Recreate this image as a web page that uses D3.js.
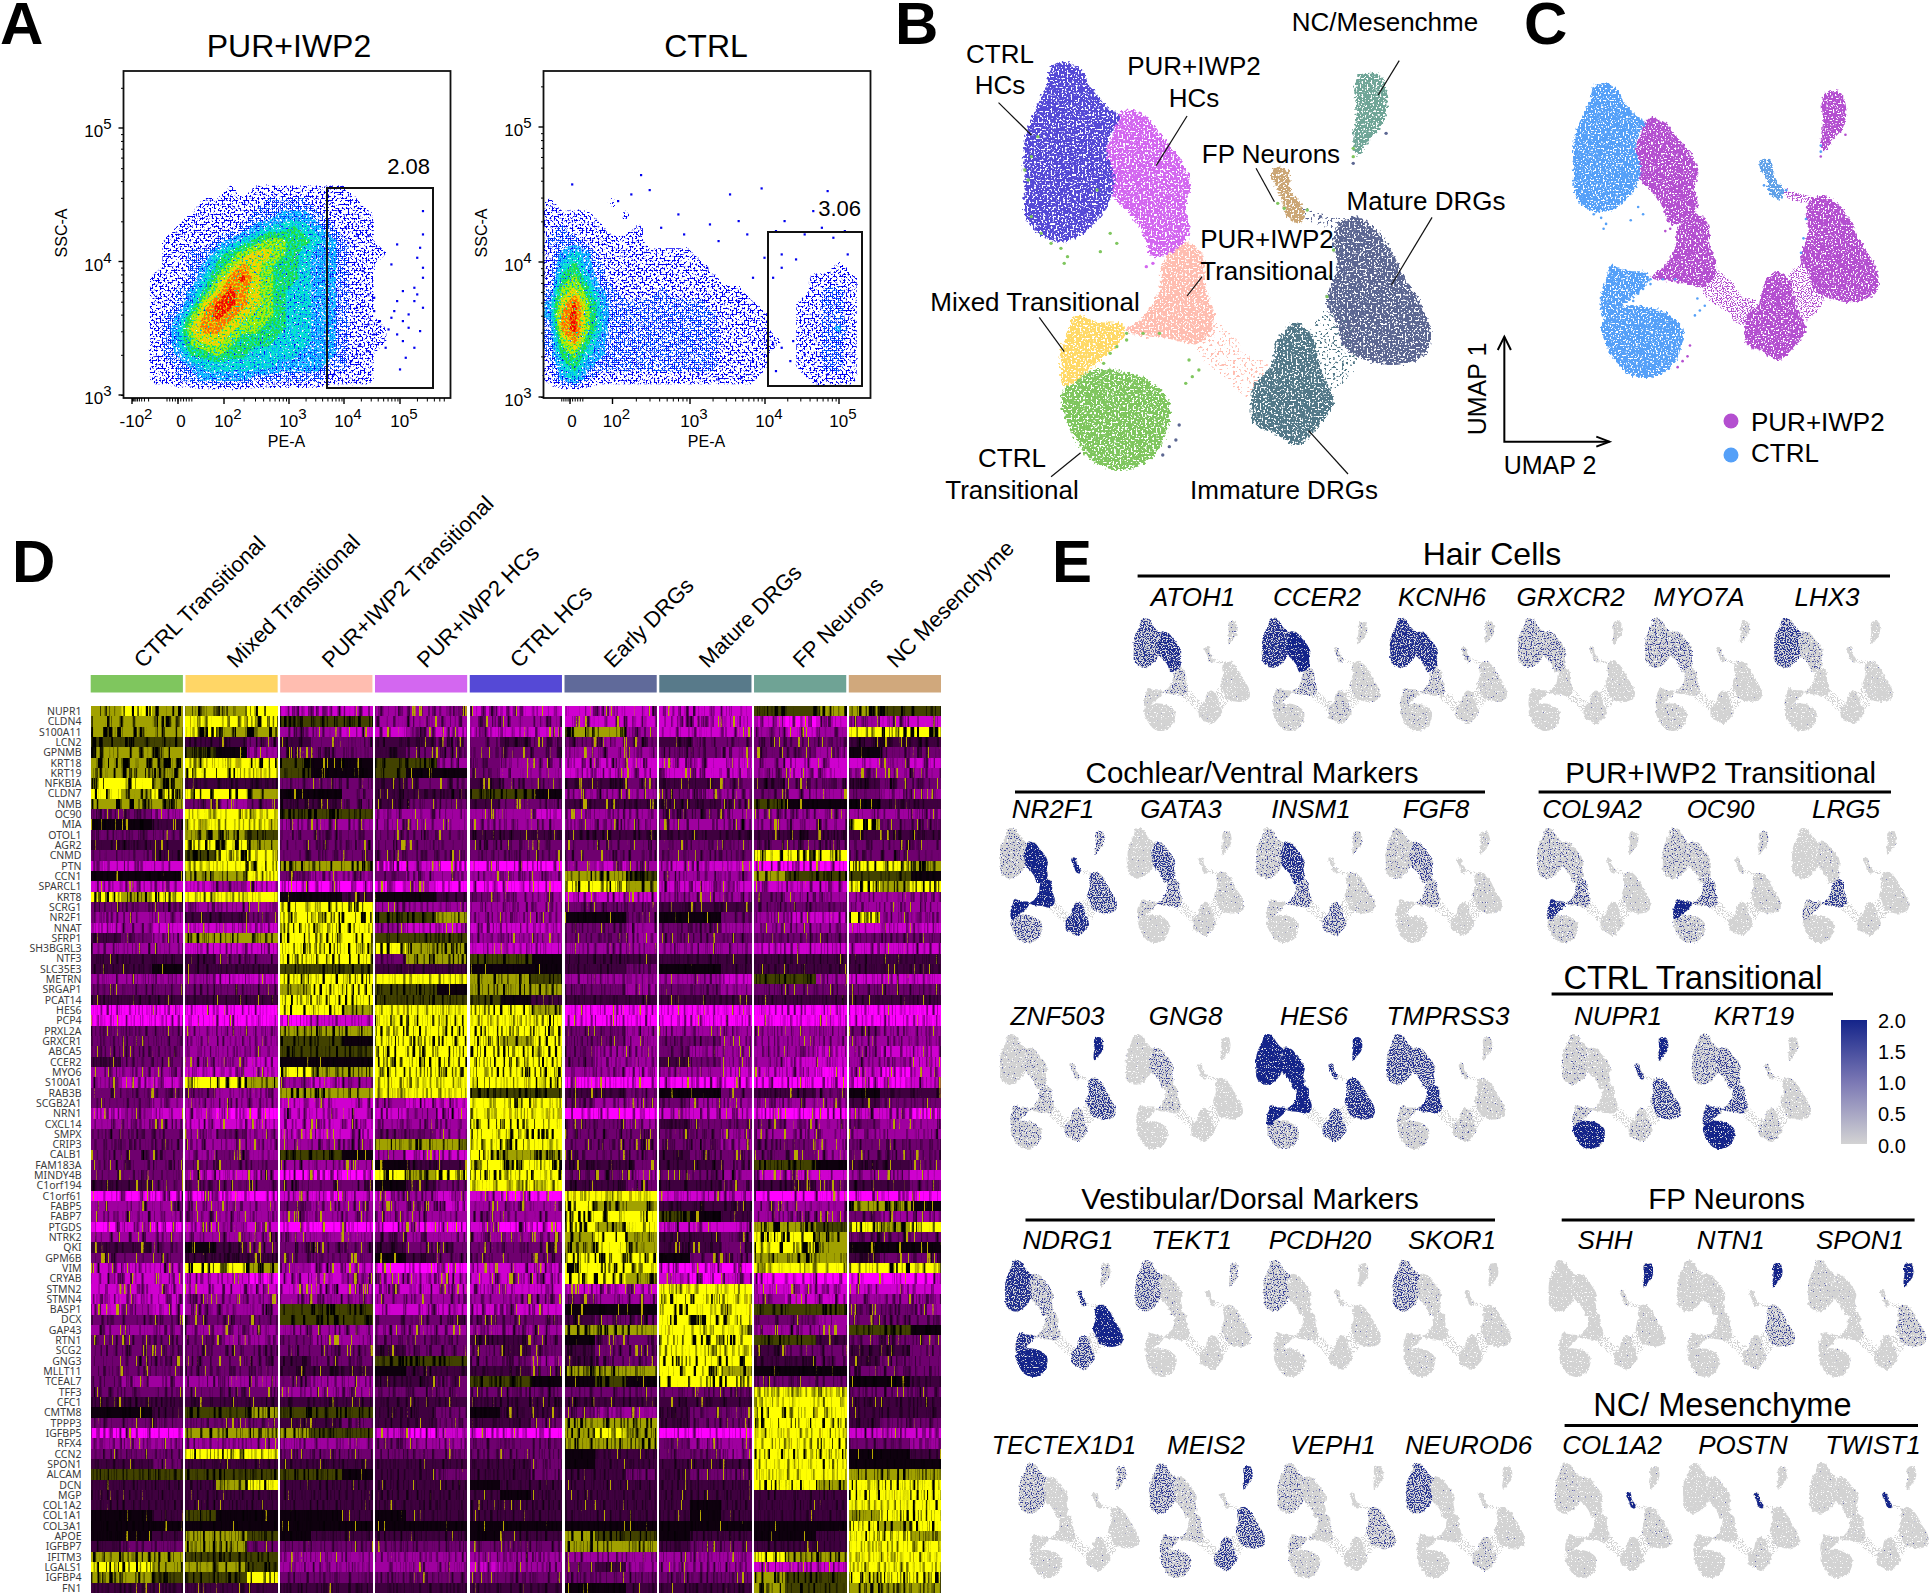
<!DOCTYPE html>
<html><head><meta charset="utf-8">
<style>html,body{margin:0;background:#fff}svg{display:block}text{font-family:"Liberation Sans",Arial,sans-serif;fill:#000}</style>
<script src="https://cdn.jsdelivr.net/npm/d3@7"></script>
</head><body><svg id="c" width="1930" height="1594"></svg>
<script>
// ---------- PANEL A: density grids (0 = empty, 9 = hottest), one string per grid row
const flowGridPUR = ["00000000000000000000000000","00000000000000000000000000","00000000000000000000000000","00000000000000000000000000","00000000000000000000000000","00000000000000000000000000","00000000000000000000000000","00000000000000000000000000","00000000000000000000000000",
"00000000101111111100000000","00000011111222211110000000","00000111112233321111000000","00001111123445432111000000","00011112345665543211000000","00011224567765433211100000","00011235687655433211000000","00111246897655433211000000","00112357987654433211000000",
"00112479987654433211000000","00123689876654433211000000","00124788766554433211100000","00124677655544433211100000","00123556554444333211000000","00112344444433332211000000","00112233332222221111000000","00000000000000000000000000"];
const flowGridCTRL = ["00000000000000000000000000","00000000000000000000000000","00000000000000000000000000","00000000000000000000000000","00000000000000000000000000","00000000000000000000000000","00000000000000000000000000","00000000000000000000000000","00000000000000000000000000","00000000000000000000000000",
"10000100000000000000000000","11110010000000000000000000","12111001000000000000000000","22211111000000000000000000","13431111111100000000000000","14532111111110000000000100","15642111111111000000011110","26753211121111110000012210","37964222222221111000112210","38964222222222111100112210",
"28964222222222111100112310","26853222222222111110112210","25643222222222111100112210","14532222222222111100112210","13421111111111111000011110","00000000000000000000000000"];
const flowColors = ["#0000f5","#0050ff","#00b4ff","#00e6c8","#20e040","#b4f000","#ffd000","#ff6a00","#f00000"];
const flowSparsePUR = [[735,630],[735,700],[730,740],[725,770],[735,800],[735,830],[690,730],[680,790],[720,860],[700,870],[690,900],[720,900],[735,920],[680,950],[700,960],[660,960],[640,970],[620,920],[650,1000],[690,1000],[730,990],[670,1040],[700,1020],[720,1040],[695,1105],[705,1070],[610,1080],[640,1050],[630,810],[650,890],[640,880],[620,700],[600,680],[590,630],[580,1120],[600,1000],[675,985],[710,940],[725,880],[710,980],[685,930],[650,930],[625,1030],[620,1060],[640,705],[605,725]];
const flowSparseCTRL = [[1115,522],[995,550],[1130,567],[1325,562],[1270,580],[1440,570],[1098,580],[1075,600],[1180,640],[1235,670],[1285,660],[1365,660],[1415,630],[1430,680],[1350,690],[1300,700],[1250,720],[1330,770],[1360,760],[1470,690],[1450,710],[1400,700],[1385,775],[1345,830],[1360,800],[1475,760],[1345,1030],[1360,1040],[1375,1080],[1350,1110],[1400,1060],[1440,1120],[1465,1080],[1420,1140],[1380,1020],[1290,1130],[1250,1135],[1310,1080],[1285,900],[1310,830],[1230,800],[1190,700],[1150,680],[1215,1120]];

// ---------- PANEL B/C/E: UMAP cluster outlines
const umapClusters = ["CTRL Transitional","Mixed Transitional","PUR+IWP2 Transitional","PUR+IWP2 HCs","CTRL HCs","Immature DRGs","Mature DRGs","FP Neurons","NC/Mesenchyme"];
const clusterColors = ["#7FC65E","#FFD966","#FFBDB0","#D367F0","#5549D6","#527888","#5C6792","#CBA675","#6FA597"];
const conditionColors = ["#55A0F8","#55A0F8","#B44FD0","#B44FD0","#55A0F8","#B44FD0","#B44FD0","#5FA0E8","#B44FD0"];
const outlineCT = [[340,1115],[385,1150],[410,1210],[405,1300],[385,1370],[340,1410],[295,1385],[265,1310],[245,1190],[265,1140],[300,1110]];
const outlineMX = [[265,945],[300,965],[340,975],[340,1010],[300,1090],[250,1160],[245,1060],[255,1000]];
const outlinePT = [[430,725],[460,760],[465,860],[478,940],[472,1000],[450,1030],[420,1020],[345,990],[370,950],[395,870],[400,790]];
const outlinePH = [[340,330],[375,350],[395,400],[430,490],[442,550],[435,620],[440,700],[420,750],[385,770],[370,700],[350,640],[325,590],[320,530],[315,450],[325,400],[330,360]];
const outlineCH = [[250,185],[275,210],[290,260],[315,320],[335,350],[320,400],[315,460],[325,530],[320,600],[300,660],[270,710],[240,725],[205,690],[190,640],[190,560],[188,470],[192,400],[205,330],[222,260],[230,200]];
const outlineIM = [[600,970],[625,1000],[640,1100],[660,1210],[640,1270],[605,1335],[570,1300],[540,1270],[535,1210],[540,1150],[565,1100],[575,1020]];
const outlineMA = [[695,650],[725,690],[750,760],[770,840],[795,920],[808,1000],[800,1060],[750,1095],[680,1050],[665,970],[650,910],[665,800],[660,720],[670,670]];
const outlineFP = [[575,500],[590,510],[595,570],[615,630],[610,670],[590,650],[580,590],[565,520]];
const outlineNC = [[700,225],[730,225],[742,300],[735,370],[715,420],[695,470],[690,420],[695,340],[692,260]];
const umapOutlines = [outlineCT,outlineMX,outlinePT,outlinePH,outlineCH,outlineIM,outlineMA,outlineFP,outlineNC];
// thin, sparsely populated links between clusters: [owning cluster, outline]
const bridgePTtoIM = [[470,960],[505,1000],[530,1070],[560,1090],[530,1190],[495,1130],[450,1050]];
const bridgeIMtoMA = [[625,985],[665,925],[690,1000],[695,1090],[660,1170],[645,1110]];
const bridgeFPtoMA = [[610,625],[650,645],[680,665],[665,680],[625,665]];
const bridgeOwners = [2,5,6];
const umapBridges = [bridgePTtoIM,bridgeIMtoMA,bridgeFPtoMA];
const strayCells = [[200,650,0],[215,700,0],[230,730,0],[245,745,0],[255,770,0],[250,790,0],[195,540,0],[200,470,0],[190,510,0],[210,410,0],[320,700,0],[330,730,0],[305,755,0],[300,570,0],[345,1000,0],[370,1000,0],[395,1000,0],[330,1040,0],[345,1020,0],[320,1060,0],[310,1090,0],[440,1080,0],[455,1110,0],[445,1130,0],[435,1150,0],[575,610,0],[585,625,0],[620,630,0],[660,750,0],[655,830,0],[650,890,0],[690,470,0],[690,445,0],
[375,800,3],[385,790,3],[640,650,6],[410,1340,6],[425,1275,6],[420,1320,6],[400,1365,6],[740,400,6],[690,490,6]];

// ---------- PANEL E: one expression level per gene, per cluster above (0 = none, 9 = 2.0)
const featureGenes = ["ATOH1","CCER2","KCNH6","GRXCR2","MYO7A","LHX3","NR2F1","GATA3","INSM1","FGF8","COL9A2","OC90","LRG5","ZNF503","GNG8","HES6","TMPRSS3","NUPR1","KRT19","NDRG1","TEKT1","PCDH20","SKOR1","SHH","NTN1","SPON1","TECTEX1D1","MEIS2","VEPH1","NEUROD6","COL1A2","POSTN","TWIST1"];
const featureLevels = ["124871133","235983242","234882243","111551121","223551122","111471121","699948796","136712212","136846213","115631212","386441222","496441223","157201121","454325749","013510010","599997889","348773232","941233789","987653232","984587984","111261214","111151111","111261111","000001129","111112519","111121429","111151115","553367728","242241511","111173111","111121291","001101191","011111191"];
const legendTicks = [0,0.5,1,1.5,2];

// ---------- PANEL D: scaled expression, gene x cluster, 3 sub-bands per cluster (0 magenta, 5 black, 8+ yellow)
const heatClusters = ["CTRL Transitional","Mixed Transitional","PUR+IWP2 Transitional","PUR+IWP2 HCs","CTRL HCs","Early DRGs","Mature DRGs","FP Neurons","NC Mesenchyme"];
const heatBarColors = ["#7FC65E","#FFD666","#FFBDB0","#D367F0","#5549D6","#606A9A","#587A8A","#6FA395","#D0A87C"];
const heatGenes = ["NUPR1","CLDN4","S100A11","LCN2","GPNMB","KRT18","KRT19","NFKBIA","CLDN7","NMB","OC90","MIA","OTOL1","AGR2","CNMD","PTN","CCN1","SPARCL1","KRT8","SCRG1","NR2F1","NNAT","SFRP1","SH3BGRL3","NTF3","SLC35E3","METRN","SRGAP1","PCAT14","HES6","PCP4","PRXL2A","GRXCR1","ABCA5","CCER2","MYO6","S100A1","RAB3B","SCGB2A1","NRN1","CXCL14","SMPX","CRIP3","CALB1","FAM183A","MINDY4B","C1orf194","C1orf61","FABP5","FABP7","PTGDS","NTRK2","QKI","GPM6B","VIM","CRYAB","STMN2","STMN4","BASP1","DCX","GAP43","RTN1","SCG2","GNG3","MLLT11","TCEAL7","TFF3","CFC1","CMTM8","TPPP3","IGFBP5","RFX4","CCN2","SPON1","ALCAM","DCN","MGP","COL1A2","COL1A1","COL3A1","APOE","IGFBP7","IFITM3","LGALS1","IGFBP4","FN1"];
const heatValues = [
"787 778 111 222 111 111 111 667 766","777 998 666 222 222 111 111 101 211","777 877 221 121 111 772 111 212 988","666 443 433 443 343 323 433 333 444","777 652 333 433 333 222 332 332 533","777 998 655 662 322 111 111 211 121","777 889 655 655 322 111 111 211 222","887 444 333 433 433 443 443 433 433","878 887 553 444 665 222 322 322 322","777 323 443 433 433 444 443 655 544",
"332 999 666 222 221 222 332 222 222","554 999 222 222 222 222 222 222 833","333 776 333 333 444 444 444 444 444","444 887 333 333 333 333 333 333 333","334 689 333 333 333 333 333 888 333","111 998 777 010 000 212 111 000 887","555 779 322 322 222 776 222 766 665","111 121 000 010 000 887 111 111 878","878 999 554 554 322 111 222 322 222","333 222 888 222 222 333 444 333 222",
"222 443 888 667 222 553 553 211 822","121 111 888 211 111 332 332 222 111","432 777 888 666 222 332 333 333 333","222 111 888 877 111 222 222 111 111","444 433 888 377 665 444 444 444 444","445 444 666 444 555 443 554 444 444","222 211 888 999 776 222 221 662 111","333 333 788 665 777 332 332 333 333","444 444 888 666 654 444 444 444 444","000 000 887 999 887 000 000 000 000",
"000 000 011 888 998 000 000 000 000","333 222 777 888 888 332 222 222 322","333 222 665 888 878 332 332 222 222","333 222 666 888 888 322 322 221 211","433 221 555 888 888 322 432 211 221","222 111 877 888 888 221 221 110 101","211 887 212 999 898 000 000 000 001","333 322 777 999 666 443 553 443 544","332 222 111 211 989 322 322 222 433","121 100 111 121 999 000 111 000 110",
"222 111 111 222 888 332 433 322 322","333 232 111 332 888 333 332 222 222","333 222 222 777 989 333 332 332 333","333 232 665 211 877 333 433 332 333","333 333 222 544 888 443 443 665 443","333 111 000 878 888 332 332 111 221","443 333 333 543 999 443 443 443 443","000 000 101 121 100 999 111 000 000","222 222 322 221 222 877 444 222 775","222 222 222 222 222 888 654 222 322",
"010 121 000 000 100 878 111 776 878","222 222 222 322 222 787 443 887 333","443 543 333 433 333 787 443 887 555","333 444 333 543 333 888 533 777 433","111 887 211 000 111 889 000 999 989","111 110 112 111 111 887 101 000 000","111 111 111 111 111 111 999 111 111","111 222 222 222 222 322 889 211 222","121 222 666 111 111 555 899 666 332","333 333 666 333 333 433 888 332 333",
"222 222 222 222 222 777 999 222 665","333 322 322 333 443 533 888 664 333","333 333 333 433 343 433 999 433 443","333 333 433 666 332 433 888 443 433","333 333 444 544 443 777 887 555 333","322 222 322 443 665 565 888 333 554","333 333 222 333 333 333 333 999 333","444 444 444 444 444 444 444 999 444","554 667 666 443 544 322 433 889 444","333 333 443 443 443 777 433 888 433",
"000 777 766 101 000 787 000 999 111","222 222 222 322 333 777 322 998 332","333 889 333 333 333 544 332 888 554","443 444 444 444 443 544 444 998 555","666 666 665 443 443 443 433 999 777","444 478 444 444 544 444 444 887 888","444 444 444 444 454 444 444 444 898","444 444 444 444 444 444 454 444 998","554 655 554 544 444 444 454 444 788","555 555 555 555 555 555 555 555 878",
"554 776 544 444 544 766 544 554 887","433 773 333 333 333 777 433 444 998","777 666 222 222 222 222 222 877 999","887 776 222 222 122 342 222 111 999","776 668 333 333 333 333 333 766 888","444 444 444 444 444 554 444 766 777"];

// ---------- Layout (positions only)
const svg = d3.select("#c"), defs = svg.append("defs");
const txt = (s,x,y,size,anchor="middle",extra={})=>{const t=svg.append("text").attr("x",x).attr("y",y).attr("font-size",size).attr("text-anchor",anchor).text(s);Object.entries(extra).forEach(([k,v])=>t.attr(k,v));return t;};

// Rendering grain only (SVG turbulence): the data arrays above decide every colour and shape;
// these filters just break solid fills into the dotty, barcode look of the original's per-cell plotting.
function speckle(id,seed,th,freq=.6,disp=0){
  const f=defs.append("filter").attr("id",id).attr("color-interpolation-filters","sRGB").attr("x","-5%").attr("y","-5%").attr("width","110%").attr("height","110%");
  f.append("feTurbulence").attr("type","fractalNoise").attr("baseFrequency",.35).attr("numOctaves",1).attr("seed",seed).attr("result","t");
  f.append("feDisplacementMap").attr("in","SourceGraphic").attr("in2","t").attr("scale",disp).attr("xChannelSelector","R").attr("yChannelSelector","G").attr("result","d");
  f.append("feTurbulence").attr("type","fractalNoise").attr("baseFrequency",freq).attr("numOctaves",1).attr("seed",seed+5).attr("result","h");
  f.append("feColorMatrix").attr("in","h").attr("type","matrix").attr("values",`0 0 0 0 0 0 0 0 0 0 0 0 0 0 0 14 0 0 0 ${-14*th}`).attr("result","m");
  f.append("feComposite").attr("in","d").attr("in2","m").attr("operator","in");
}
flowColors.forEach((c,i)=>speckle("fl"+i,i*3+2,i<2?.5:.45,.5,3));
speckle("umapB",11,.37,.55,9); speckle("umapC",17,.36,.6,7); speckle("umapGrey",23,.3,.8,4);
speckle("bridgeBig",31,.58,.45,8); speckle("bridgeSmall",37,.5,.8,4);
// level -> how much of a cluster's area is covered by expressing cells
const levelThreshold = d3.scaleLinear().domain([1,3,5,7,8,9]).range([.72,.63,.55,.47,.41,.33]);
d3.range(1,10).forEach(l=>speckle("lvl"+l,29,levelThreshold(l),.83,3));
function barcode(id,seed,k,t,sparseTh){
  const f=defs.append("filter").attr("id",id).attr("color-interpolation-filters","sRGB").attr("x",0).attr("y",0).attr("width",1).attr("height",1);
  f.append("feTurbulence").attr("type","fractalNoise").attr("baseFrequency","0.31 0.002").attr("numOctaves",2).attr("seed",seed).attr("result","n");
  f.append("feColorMatrix").attr("in","n").attr("type","matrix").attr("values",`${k} 0 0 0 ${t} ${k} 0 0 0 ${t} ${k} 0 0 0 ${t} 0 0 0 0 1`).attr("result","m");
  f.append("feBlend").attr("in","SourceGraphic").attr("in2","m").attr("mode","multiply").attr("result","b");
  let last="b";
  if(sparseTh){
    f.append("feColorMatrix").attr("in","n").attr("type","matrix").attr("values",`0 0 0 0 .72 0 0 0 0 .66 0 0 0 0 0 0 30 0 0 ${-30*sparseTh}`).attr("result","y");
    f.append("feMerge").attr("result","bm").call(s=>{s.append("feMergeNode").attr("in","b");s.append("feMergeNode").attr("in","y");});
    last="bm";
  }
  f.append("feComposite").attr("in",last).attr("in2","SourceAlpha").attr("operator","in");
}

// Panel letters
[["A",0],["B",895],["C",1524]].forEach(([l,x])=>txt(l,x,44,60,"start",{"font-weight":"bold"}));
[["D",12],["E",1052]].forEach(([l,x])=>txt(l,x,582,60,"start",{"font-weight":"bold"}));

// ---------- Panel A
const xRead=d3.scaleLinear().domain([0,1568]).range([0,900]), yRead=d3.scaleLinear().domain([0,1500]).range([0,500]);
function flowPlot(o){
  const gx=d3.scaleLinear().domain([0,26]).range([o.x0,o.x0+327]), gy=d3.scaleLinear().domain([0,26]).range([71,398]);
  const vals=o.grid.flatMap(r=>r.padEnd(26,"0").split("").map(Number));
  const path=d3.geoPath(d3.geoTransform({point(x,y){this.stream.point(gx(x),gy(y));}}));
  flowColors.forEach((c,i)=>{
    const cont=d3.contours().size([26,26]).thresholds([i+.6])(vals);
    svg.append("path").attr("d",path(cont[0])).attr("fill",c).attr("filter",`url(#fl${i})`);
  });
  svg.append("g").selectAll("rect").data(o.sparse).join("rect").attr("x",d=>xRead(d[0])).attr("y",d=>yRead(d[1])).attr("width",2.2).attr("height",2.2).attr("fill","#0000f0");
  svg.append("rect").attr("x",o.x0).attr("y",71).attr("width",327).attr("height",327).attr("fill","none").attr("stroke","#111").attr("stroke-width",1.8);
  const ys=d3.scaleLog().domain([1000,100000]).range(o.yRange);
  const yg=svg.append("g").attr("transform",`translate(${o.x0},0)`);
  yg.call(d3.axisLeft(ys).tickValues([1000,2000,3000,4000,5000,6000,7000,8000,9000,2e4,3e4,4e4,5e4,6e4,7e4,8e4,9e4,2e5]).tickSize(2.5).tickFormat(""));
  yg.call(g=>g.select(".domain").remove());
  [3,4,5].forEach(e=>{const y=ys(10**e);
    svg.append("line").attr("x1",o.x0-5).attr("x2",o.x0).attr("y1",y).attr("y2",y).attr("stroke","#000").attr("stroke-width",1.4);
    const t=txt("10",o.x0-12,y+9,17,"end");t.append("tspan").attr("dy",-8).attr("font-size",15).text(e);});
  const xs=d3.scaleLinear().domain(o.xDomain).range(o.xRange);
  const decades=d=>d3.range(2,10).map(m=>Math.log10(m)+d);
  const minors=[...o.minorDec.flatMap(decades),...o.neg,...d3.range(-.5,.6,.12)];
  const xg=svg.append("g").attr("transform","translate(0,398)");
  xg.call(d3.axisBottom(xs).tickValues(minors.filter(v=>v<=o.xDomain[o.xDomain.length-1]&&v>=o.xDomain[0])).tickSize(3.5).tickFormat(""));
  xg.select(".domain").remove();
  o.xLabels.forEach(([v,lab,e,dx])=>{const x=xs(v);
    svg.append("line").attr("x1",x).attr("x2",x).attr("y1",398).attr("y2",404).attr("stroke","#000").attr("stroke-width",1.4);
    const t=txt(lab,x+(dx||0),427,17,"middle");if(e){t.append("tspan").attr("dy",-8).attr("font-size",15).text(e);}});
  txt(o.title,o.titleX,57,32);
  txt("PE-A",o.x0+163,447,16);
  txt("SSC-A",0,0,16,"middle",{transform:`translate(${o.x0-57+.5},233) rotate(-90)`});
  const [a,b,c,d]=o.gate;
  svg.append("rect").attr("x",a).attr("y",b).attr("width",c-a).attr("height",d-b).attr("fill","none").attr("stroke","#111").attr("stroke-width",2);
  txt(o.gateLabel,o.gateX,o.gateY,22,"end");
}
flowPlot({x0:123.5,grid:flowGridPUR,sparse:flowSparsePUR,title:"PUR+IWP2",titleX:289,yRange:[395,128],xDomain:[-2,0,2,3,4,5,5.8],xRange:[132,178,224,289,344,400,445],minorDec:[2,3,4,5],neg:[-1.3,-1.48,-1.6,-1.7,-1.78,-1.85,-1.9,-1.95,-2],xLabels:[[-2,"-10","2",4],[0,"0",null,3],[2,"10","2",4],[3,"10","3",4],[4,"10","4",4],[5,"10","5",4]],gate:[327,188,433,388],gateLabel:"2.08",gateX:430,gateY:174});
flowPlot({x0:543.5,grid:flowGridCTRL,sparse:flowSparseCTRL,title:"CTRL",titleX:706,yRange:[397,127],xDomain:[-.8,0,2,3,4,5,5.3],xRange:[556,570,612.5,690,765,839,868],minorDec:[2,3,4,5],neg:[],xLabels:[[0,"0",null,2],[2,"10","2",4],[3,"10","3",4],[4,"10","4",4],[5,"10","5",4]],gate:[768,232,862,386],gateLabel:"3.06",gateX:861,gateY:216});

// ---------- UMAP drawing
const blobLine=(xs,ys)=>d3.line().x(d=>xs(d[0])).y(d=>ys(d[1])).curve(d3.curveCatmullRomClosed.alpha(.5));
function umapPaths(sel,xs,ys,fill){
  return sel.selectAll("path").data(umapOutlines).join("path").attr("d",blobLine(xs,ys)).attr("fill",(d,i)=>fill(i));
}
function bridgePaths(sel,xs,ys,fill){
  return sel.selectAll("path").data(umapBridges).join("path").attr("d",blobLine(xs,ys)).attr("fill",(d,i)=>fill(bridgeOwners[i]));
}
function strays(sel,xs,ys,fill,r){
  sel.selectAll("circle").data(strayCells).join("circle").attr("cx",d=>xs(d[0])).attr("cy",d=>ys(d[1])).attr("r",r).attr("fill",d=>fill(d[2]));
}
const xB=d3.scaleLinear().domain([0,1568]).range([900,1930]), yB=d3.scaleLinear().domain([0,1530]).range([0,510]);
bridgePaths(svg.append("g").attr("filter","url(#bridgeBig)"),xB,yB,i=>clusterColors[i]);
umapPaths(svg.append("g").attr("filter","url(#umapB)"),xB,yB,i=>clusterColors[i]);
strays(svg.append("g"),xB,yB,d=>clusterColors[d],1.7);
const bLabels=[["NC/Mesenchme",1385,31],["CTRL",1000,63],["HCs",1000,94],["PUR+IWP2",1194,75],["HCs",1194,107],["FP Neurons",1271,163],["Mature DRGs",1426,210],["PUR+IWP2",1267,248],["Transitional",1267,280],["Mixed Transitional",1035,311],["CTRL",1012,467],["Transitional",1012,499],["Immature DRGs",1284,499]];
bLabels.forEach(([s,x,y])=>txt(s,x,y,26));
const leaders=[[150,308,200,405],[437,348,390,497],[760,182,728,285],[542,505,570,605],[810,652,748,855],[460,830,437,888],[212,952,250,1055],[275,1358,230,1430],[622,1292,682,1422]];
svg.append("g").selectAll("line").data(leaders).join("line").attr("x1",d=>xB(d[0])).attr("y1",d=>yB(d[1])).attr("x2",d=>xB(d[2])).attr("y2",d=>yB(d[3])).attr("stroke","#111").attr("stroke-width",1.2);

const xC=d3.scaleLinear().domain([188,808]).range([1573,1879]), yC=d3.scaleLinear().domain([185,1410]).range([83,378]);
bridgePaths(svg.append("g").attr("filter","url(#bridgeSmall)"),xC,yC,i=>conditionColors[i]);
umapPaths(svg.append("g").attr("filter","url(#umapC)"),xC,yC,i=>conditionColors[i]);
strays(svg.append("g"),xC,yC,d=>conditionColors[d],1.3);
const ax=svg.append("g").attr("fill","none").attr("stroke","#000").attr("stroke-width",2);
ax.append("path").attr("d",`M${xB(920)},${yB(1010)}V${yB(1325)}H${xB(1080)}`);
ax.append("path").attr("d",`M${xB(910)},${yB(1050)}L${xB(920)},${yB(1010)}L${xB(930)},${yB(1050)}`);
ax.append("path").attr("d",`M${xB(1060)},${yB(1310)}L${xB(1080)},${yB(1325)}L${xB(1060)},${yB(1340)}`);
txt("UMAP 1",0,0,25,"middle",{transform:"translate(1486,389) rotate(-90)"});
txt("UMAP 2",1550,474,25);
[["PUR+IWP2",421,431,"#B44FD0"],["CTRL",455,462,"#55A0F8"]].forEach(([s,cy,by,c])=>{
  svg.append("circle").attr("cx",1731).attr("cy",cy).attr("r",7.5).attr("fill",c);
  txt(s,1751,by,26,"start");
});

// ---------- Panel D
const heatColor=d3.scaleLinear().domain([0,5.3,8]).range(["#ff00ff","#000000","#ffff00"]).clamp(true);
const hx=d3.scaleBand().domain(heatClusters).range([90.7,941]).paddingInner(.027);
const hy=d3.scaleBand().domain(heatGenes).range([706,1593]);
const hs=d3.scaleBand().domain([0,1,2]).range([0,hx.bandwidth()]);
heatClusters.forEach((c,i)=>{
  svg.append("rect").attr("x",hx(c)).attr("y",675).attr("width",hx.bandwidth()).attr("height",17.5).attr("fill",heatBarColors[i]);
});
const labelStart=[137,230,325,420,513,607,702,796,890];
heatClusters.forEach((c,i)=>txt(c,0,0,22,"start",{transform:`translate(${labelStart[i]+6},669) rotate(-45)`}));
const gHeat=svg.append("g").attr("shape-rendering","crispEdges");
heatGenes.forEach((g,r)=>{
  const cells=heatValues[r].split(" ").flatMap((grp,ci)=>grp.split("").map((d,s)=>({c:heatClusters[ci],s,v:+d})));
  barcode("bs"+r,100+r,2.5,-.3,.7);
  barcode("bh"+r,100+r,5.5,-1.8,0);
  [["bs"+r,cells.filter(d=>d.v<6||d.v==9)],["bh"+r,cells.filter(d=>d.v>=6&&d.v<9)]].forEach(([id,sub])=>{
    if(!sub.length) return;
    gHeat.append("g").attr("filter",`url(#${id})`).selectAll("rect").data(sub).join("rect")
      .attr("x",d=>hx(d.c)+hs(d.s)).attr("y",hy(g)).attr("width",hs.bandwidth()+.3).attr("height",hy.bandwidth()+.3).attr("fill",d=>heatColor(d.v));
  });
});
svg.append("g").selectAll("text").data(heatGenes).join("text").attr("x",81.5).attr("y",d=>hy(d)+hy.bandwidth()/2+3.8).attr("text-anchor","end").attr("font-size",10.5).style("font-family","'Noto Sans',sans-serif").style("fill","#3c3c3c").text(d=>d);

// ---------- Panel E
const exprColor=d3.scaleLinear().domain([1,5,9]).range(["#6266ad","#3a4399","#14248a"]);
const sections=[["Hair Cells",1492,565,1137.6,1890,576,32],["Cochlear/Ventral Markers",1252,783,1015,1485,792,29.5],["PUR+IWP2 Transitional",1720.6,783,1538.6,1891,792,29.5],["CTRL Transitional",1693,989,1551.6,1833,994,32.5],["Vestibular/Dorsal Markers",1250,1209,1025.5,1495,1220,29.5],["FP Neurons",1726.6,1209,1561.7,1914.6,1220,29.5],["NC/ Mesenchyme",1722.4,1416,1564.6,1918,1425.6,32.5]];
sections.forEach(([s,x,y,a,b,ry,fs])=>{txt(s,x,y,fs);svg.append("line").attr("x1",a).attr("x2",b).attr("y1",ry).attr("y2",ry).attr("stroke","#000").attr("stroke-width",3);});
const featureLayout=[[1193,606,1133.5,1250,618,731],[1317,606,1262,1380,618,731],[1442,606,1390,1507,618,731],[1570.6,606,1518,1635,618,731],[1699,606,1645,1762,618,731],[1827,606,1774,1893,618,731],
[1053,818,1000,1117,828,943],[1181,818,1127.5,1244,828,943],[1311,818,1256,1375,828,943],[1436,818,1385.5,1502,828,943],[1592,818,1537,1650.6,828,943],[1720.6,818,1662.5,1781,828,943],[1846,818,1792,1909,828,943],
[1057.5,1025,1000,1115.6,1034,1149],[1185.6,1025,1125.7,1243,1034,1149],[1314,1025,1256,1375,1034,1149],[1448,1025,1386.7,1505,1034,1149],[1618,1025,1562,1681,1034,1149],[1754,1025,1692,1811,1034,1149],
[1068,1249,1005,1123,1260,1377],[1191.6,1249,1135,1251,1260,1377],[1320,1249,1263,1381,1260,1377],[1452,1249,1392.6,1511,1260,1377],[1605,1249,1548.6,1665.5,1260,1377],[1730.7,1249,1677,1795,1260,1377],[1860,1249,1808,1926,1260,1377],
[1064,1454,1019,1139,1463,1578],[1206,1454,1149.5,1265,1463,1578],[1333,1454,1277.6,1396,1463,1578],[1468.6,1454,1406,1525,1463,1578],[1612,1454,1554.6,1672,1463,1578],[1743,1454,1683,1799.5,1463,1578],[1873,1454,1809.6,1929,1463,1578]];
featureGenes.forEach((g,k)=>{
  const [cx,by,x0,x1,y0,y1]=featureLayout[k];
  txt(g,cx,by,g.length>8?25:26,"middle",{"font-style":"italic"});
  const xs=d3.scaleLinear().domain([188,808]).range([x0,x1]), ys=d3.scaleLinear().domain([185,1410]).range([y0,y1]);
  bridgePaths(svg.append("g").attr("filter","url(#bridgeSmall)"),xs,ys,()=>"#d3d3d3");
  umapPaths(svg.append("g").attr("filter","url(#umapGrey)"),xs,ys,()=>"#d3d3d3");
  const lv=featureLevels[k];
  umapPaths(svg.append("g"),xs,ys,i=>+lv[i]?exprColor(+lv[i]):"none").attr("filter",(d,i)=>+lv[i]?`url(#lvl${lv[i]})`:null);
});
const lg=defs.append("linearGradient").attr("id","exprBar").attr("x1",0).attr("x2",0).attr("y1",1).attr("y2",0);
[[0,"#d3d3d3"],[.5,"#7b78b4"],[1,"#14248a"]].forEach(([o,c])=>lg.append("stop").attr("offset",o).attr("stop-color",c));
svg.append("rect").attr("x",1841).attr("y",1020).attr("width",26).attr("height",124).attr("fill","url(#exprBar)");
const legY=d3.scaleLinear().domain([0,2]).range([1145.5,1021]);
svg.append("g").selectAll("text").data(legendTicks).join("text").attr("x",1878).attr("y",d=>legY(d)+7).attr("font-size",20).text(d=>d.toFixed(1));
</script></body></html>
